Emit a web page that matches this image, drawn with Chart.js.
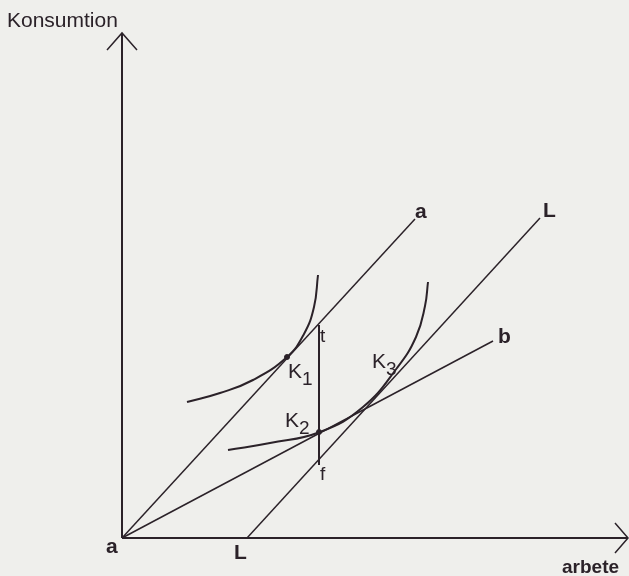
<!DOCTYPE html>
<html>
<head>
<meta charset="utf-8">
<script src="https://cdn.jsdelivr.net/npm/chart.js@4.4.1/dist/chart.umd.min.js"></script>
<style>
  body { margin: 0; background: #efefec; }
  canvas { display: block; }
</style>
</head>
<body>
<canvas id="diagram" width="629" height="576"></canvas>
<script>
// data units: arbete (x) and konsumtion (y), origin at point a
const lineA = [{ x: 0, y: 0 }, { x: 293, y: 319 }];
const lineL = [{ x: 125, y: 0 }, { x: 418, y: 320 }];
const lineB = [{ x: 0, y: 0 }, { x: 371, y: 197 }];
const segmentTF = [{ x: 197, y: 213 }, { x: 197, y: 73 }];
const curveK1 = [
  { x: 65, y: 136 }, { x: 98, y: 145 }, { x: 131, y: 158 }, { x: 165, y: 181 },
  { x: 182, y: 204 }, { x: 192, y: 231 }, { x: 196, y: 263 },
];
const curveK2 = [
  { x: 106, y: 88 }, { x: 148, y: 95 }, { x: 198, y: 106 }, { x: 241, y: 131 },
  { x: 275, y: 170 }, { x: 294, y: 201 }, { x: 303, y: 232 }, { x: 306, y: 256 },
];
const tangentPoints = [{ x: 165, y: 181 }, { x: 197, y: 106 }];
const yAxis = [{ x: 0, y: 0 }, { x: 0, y: 505 }];
const yArrow = [{ x: -15, y: 488 }, { x: 0, y: 505 }, { x: 15, y: 488 }];
const xAxis = [{ x: 0, y: 0 }, { x: 506, y: 0 }];
const xArrow = [{ x: 493, y: 15 }, { x: 506, y: 0 }, { x: 493, y: -15 }];

const labels = [
  { text: "Konsumtion", x: -115, y: 511, font: "21px 'Liberation Sans', Arial" },
  { text: "arbete", x: 440, y: -35, font: "bold 19px 'Liberation Sans', Arial" },
  { text: "a", x: -16, y: -15, font: "bold 21px 'Liberation Sans', Arial" },
  { text: "L", x: 112, y: -21, font: "bold 21px 'Liberation Sans', Arial" },
  { text: "a", x: 293, y: 320, font: "bold 21px 'Liberation Sans', Arial" },
  { text: "L", x: 421, y: 321, font: "bold 21px 'Liberation Sans', Arial" },
  { text: "b", x: 376, y: 195, font: "bold 21px 'Liberation Sans', Arial" },
  { text: "t", x: 198, y: 196, font: "19px 'Liberation Sans', Arial" },
  { text: "f", x: 198, y: 58, font: "19px 'Liberation Sans', Arial" },
];
const kLabels = [
  { sub: "1", x: 166, y: 160 },
  { sub: "2", x: 163, y: 111 },
  { sub: "3", x: 250, y: 170 },
];

const ink = "#2b2229";

function line(data, width, extra) {
  return Object.assign({
    data: data,
    showLine: true,
    borderColor: ink,
    borderWidth: width,
    pointRadius: 0,
    fill: false,
  }, extra || {});
}

const textPlugin = {
  id: "textLabels",
  afterDatasetsDraw(chart) {
    const { ctx, scales } = chart;
    ctx.save();
    ctx.fillStyle = ink;
    ctx.textBaseline = "alphabetic";
    labels.forEach((l) => {
      ctx.font = l.font;
      ctx.fillText(l.text, scales.x.getPixelForValue(l.x), scales.y.getPixelForValue(l.y));
    });
    kLabels.forEach((k) => {
      const px = scales.x.getPixelForValue(k.x);
      const py = scales.y.getPixelForValue(k.y);
      ctx.font = "21px 'Liberation Sans', Arial";
      ctx.fillText("K", px, py);
      const w = ctx.measureText("K").width;
      ctx.font = "19px 'Liberation Sans', Arial";
      ctx.fillText(k.sub, px + w, py + 7);
    });
    ctx.restore();
  },
};

new Chart(document.getElementById("diagram"), {
  type: "scatter",
  data: {
    datasets: [
      line(yAxis, 2),
      line(yArrow, 1.5),
      line(xAxis, 2),
      line(xArrow, 1.5),
      line(lineA, 1.5),
      line(lineL, 1.5),
      line(lineB, 1.5),
      line(segmentTF, 2),
      line(curveK1, 2, { tension: 0.45 }),
      line(curveK2, 2, { tension: 0.45 }),
      { data: tangentPoints, showLine: false, pointRadius: 2.5, backgroundColor: ink, borderColor: ink },
    ],
  },
  options: {
    responsive: false,
    animation: false,
    layout: { padding: 0, autoPadding: false },
    scales: {
      x: { type: "linear", min: -122, max: 507, display: false },
      y: { type: "linear", min: -38, max: 538, display: false },
    },
    plugins: {
      legend: { display: false },
      tooltip: { enabled: false },
    },
  },
  plugins: [textPlugin],
});
</script>
</body>
</html>
